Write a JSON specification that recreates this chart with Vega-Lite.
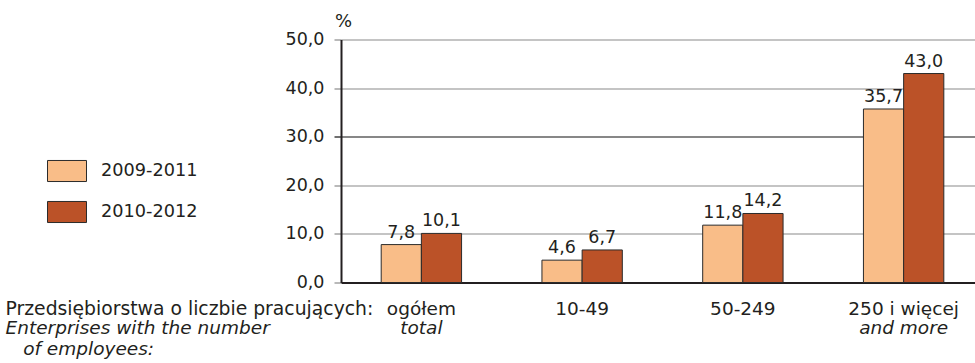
{
  "$schema": "https://vega.github.io/schema/vega-lite/v6.json",
  "width": 643,
  "height": 243,
  "autosize": {"type": "none"},
  "padding": {"left": 341, "top": 39.5, "right": 0, "bottom": 80.5},
  "background": "white",
  "config": {
    "view": {"stroke": null},
    "font": "DejaVu Sans",
    "locale": {
      "number": {"decimal": ",", "thousands": "\u00a0", "grouping": [3], "currency": ["", " zł"]}
    }
  },
  "data": {
    "values": [
      {"group": "ogółem", "period": "2009-2011", "value": 7.8},
      {"group": "ogółem", "period": "2010-2012", "value": 10.1},
      {"group": "10-49", "period": "2009-2011", "value": 4.6},
      {"group": "10-49", "period": "2010-2012", "value": 6.7},
      {"group": "50-249", "period": "2009-2011", "value": 11.8},
      {"group": "50-249", "period": "2010-2012", "value": 14.2},
      {"group": "250 i więcej", "period": "2009-2011", "value": 35.7},
      {"group": "250 i więcej", "period": "2010-2012", "value": 43.0}
    ]
  },
  "encoding": {
    "xOffset": {"field": "period", "type": "nominal", "sort": null},
    "y": {
      "field": "value",
      "type": "quantitative",
      "stack": null,
      "title": "%",
      "scale": {"domain": [0, 50], "nice": false, "zero": true},
      "axis": {
        "values": [0, 10, 20, 30, 40, 50],
        "format": ".1f",
        "titleAngle": 0,
        "titleX": 2,
        "titleY": -18.5,
        "titleAlign": "center",
        "titleBaseline": "middle",
        "titleFont": "DejaVu Sans",
        "titleFontSize": 18,
        "titleFontWeight": "normal",
        "titleColor": "#231f20",
        "labelFont": "DejaVu Sans",
        "labelFontSize": 17.5,
        "labelColor": "#231f20",
        "labelPadding": 10,
        "tickSize": 7,
        "tickWidth": 1.2,
        "tickColor": {"condition": {"test": "datum.value === 30", "value": "#111111"}, "value": "#8a8a8a"},
        "grid": true,
        "gridWidth": 1.2,
        "gridColor": {"condition": {"test": "datum.value === 30", "value": "#111111"}, "value": "#8a8a8a"},
        "domainColor": "#231f20",
        "domainWidth": 2
      }
    }
  },
  "layer": [
    {
      "mark": {"type": "bar", "stroke": "#2b2b2b", "strokeWidth": 1},
      "encoding": {
        "x": {
          "field": "group",
          "type": "nominal",
          "sort": null,
          "scale": {"paddingInner": 0.5, "paddingOuter": 0.25},
          "title": "Przedsiębiorstwa o liczbie pracujących:",
          "axis": {
            "orient": "bottom",
            "labelAngle": 0,
            "labelFont": "DejaVu Sans",
            "labelFontSize": 18.5,
            "labelColor": "#231f20",
            "labelBaseline": "alphabetic",
            "labelPadding": 31.5,
            "ticks": false,
            "grid": false,
            "domain": true,
            "domainColor": "#231f20",
            "domainWidth": 2,
            "titleX": -336,
            "titleY": 31.5,
            "titleAlign": "left",
            "titleBaseline": "alphabetic",
            "titleFont": "DejaVu Sans",
            "titleFontSize": 18.8,
            "titleFontWeight": "normal",
            "titleColor": "#231f20"
          }
        },
        "color": {
          "field": "period",
          "type": "nominal",
          "sort": null,
          "scale": {"domain": ["2009-2011", "2010-2012"], "range": ["#f9bd88", "#bb5228"]},
          "legend": {
            "orient": "none",
            "legendX": -294,
            "legendY": 111.5,
            "title": null,
            "padding": 0,
            "symbolType": "M-1,-0.54H1V0.54H-1Z",
            "symbolSize": 1521,
            "symbolStrokeColor": "#2b2b2b",
            "symbolStrokeWidth": 1,
            "symbolOpacity": 1,
            "labelFont": "DejaVu Sans",
            "labelFontSize": 17.7,
            "labelColor": "#231f20",
            "labelOffset": 14,
            "rowPadding": 8
          }
        }
      }
    },
    {
      "mark": {
        "type": "text",
        "baseline": "alphabetic",
        "dy": -7,
        "font": "DejaVu Sans",
        "fontSize": 17.5,
        "color": "#231f20"
      },
      "encoding": {
        "x": {
          "field": "group",
          "type": "nominal",
          "sort": null,
          "title": ["Enterprises with the number", "\u200b\u00a0\u00a0\u00a0of employees:"],
          "axis": {
            "orient": "bottom",
            "labelAngle": 0,
            "labelExpr": "datum.value === 'ogółem' ? 'total' : datum.value === '250 i więcej' ? 'and more' : ''",
            "labelFont": "DejaVu Sans",
            "labelFontSize": 18.5,
            "labelFontStyle": "italic",
            "labelColor": "#231f20",
            "labelBaseline": "alphabetic",
            "labelPadding": 51,
            "ticks": false,
            "grid": false,
            "domain": false,
            "titleX": -336,
            "titleY": 51,
            "titleAlign": "left",
            "titleBaseline": "alphabetic",
            "titleLineHeight": 21,
            "titleFont": "DejaVu Sans",
            "titleFontSize": 18.5,
            "titleFontStyle": "italic",
            "titleFontWeight": "normal",
            "titleColor": "#231f20"
          }
        },
        "text": {"field": "value", "type": "quantitative", "format": ".1f"}
      }
    }
  ],
  "resolve": {"axis": {"x": "independent"}}
}
